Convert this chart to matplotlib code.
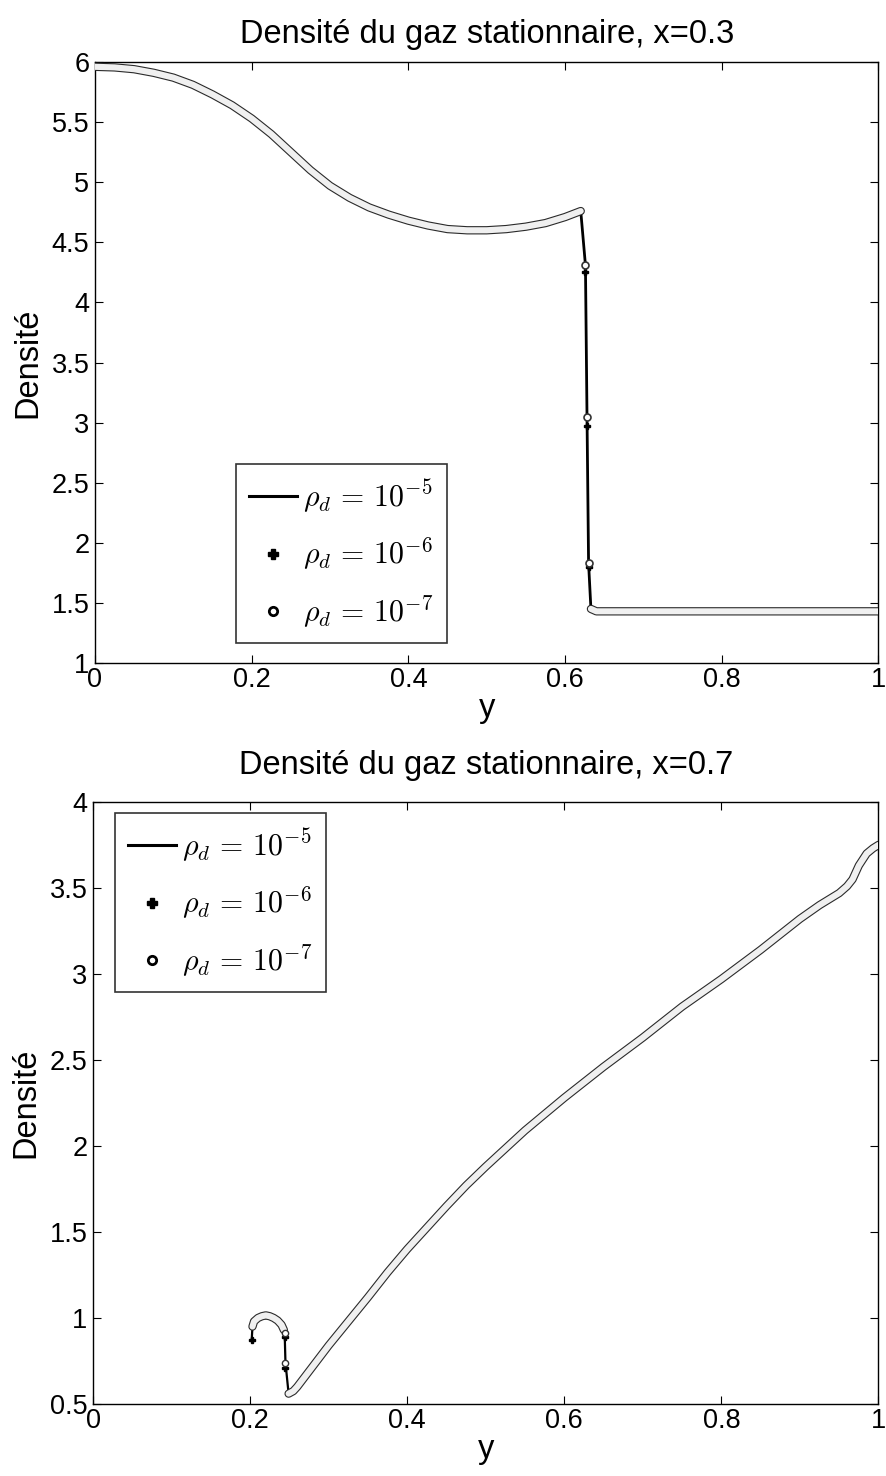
import matplotlib
matplotlib.use("Agg")
import matplotlib.pyplot as plt
import matplotlib.patheffects as pe
from matplotlib.lines import Line2D

plt.rcParams["font.family"] = ["Liberation Sans", "DejaVu Sans"]
plt.rcParams["mathtext.fontset"] = "cm"

# --- x = 0.3 : smooth part, shock, post-shock plateau
y_top_left = [0.0, 0.025, 0.05, 0.075, 0.1, 0.125, 0.15, 0.175, 0.2, 0.225,
              0.25, 0.275, 0.3, 0.325, 0.35, 0.375, 0.4, 0.425, 0.45, 0.475,
              0.5, 0.525, 0.55, 0.575, 0.6, 0.62]
rho_top_left = [5.96, 5.955, 5.94, 5.91, 5.87, 5.81, 5.73, 5.64, 5.53, 5.40,
                5.25, 5.10, 4.97, 4.87, 4.79, 4.73, 4.68, 4.64, 4.61, 4.60,
                4.60, 4.61, 4.63, 4.66, 4.71, 4.76]
y_top_shock = [0.626, 0.628, 0.630]
rho_top_shock_e6 = [4.25, 2.97, 1.80]
rho_top_shock_e7 = [4.31, 3.05, 1.83]
y_top_right = [0.633, 0.64, 0.7, 0.8, 0.9, 1.0]
rho_top_right = [1.45, 1.43, 1.43, 1.43, 1.43, 1.43]

# --- x = 0.7 : small hump, drop, long rise
y_bot_hump = [0.203, 0.205, 0.21, 0.215, 0.22, 0.225, 0.23, 0.235, 0.24, 0.243]
rho_bot_hump = [0.95, 0.98, 1.00, 1.01, 1.015, 1.01, 1.00, 0.985, 0.96, 0.93]
y_bot_drop = [0.244, 0.245]
rho_bot_drop_e6 = [0.89, 0.71]
rho_bot_drop_e7 = [0.91, 0.74]
y_bot_rise = [0.249, 0.255, 0.26, 0.28, 0.3, 0.325, 0.35, 0.375, 0.4, 0.425,
              0.45, 0.475, 0.5, 0.55, 0.6, 0.65, 0.7, 0.75, 0.8, 0.85, 0.9,
              0.925, 0.95, 0.96, 0.967, 0.975, 0.985, 0.993, 1.0]
rho_bot_rise = [0.56, 0.575, 0.60, 0.72, 0.84, 0.98, 1.12, 1.265, 1.40, 1.525,
                1.65, 1.77, 1.88, 2.09, 2.28, 2.46, 2.63, 2.81, 2.97, 3.14, 3.32,
                3.40, 3.47, 3.51, 3.55, 3.63, 3.70, 3.73, 3.75]
y_bot_start, rho_bot_start = 0.202, 0.87

labels = [r"$\rho_d \,=\, 10^{-5}$", r"$\rho_d \,=\, 10^{-6}$",
          r"$\rho_d \,=\, 10^{-7}$"]
x_ticks = [0, 0.2, 0.4, 0.6, 0.8, 1]
x_ticklabels = ["0", "0.2", "0.4", "0.6", "0.8", "1"]
top_yticks = [1, 1.5, 2, 2.5, 3, 3.5, 4, 4.5, 5, 5.5, 6]
top_yticklabels = ["1", "1.5", "2", "2.5", "3", "3.5", "4", "4.5", "5", "5.5", "6"]
bot_yticks = [0.5, 1, 1.5, 2, 2.5, 3, 3.5, 4]
bot_yticklabels = ["0.5", "1", "1.5", "2", "2.5", "3", "3.5", "4"]

tube = [pe.Stroke(linewidth=6.0, foreground="#2a2a2a", joinstyle="round"),
        pe.Normal()]


def draw_tube(ax, xs, ys):
    # dense open-circle markers in the original merge into a hollow tube
    ax.plot(xs, ys, color="#f0f0f0", lw=4.4, solid_capstyle="round",
            solid_joinstyle="round", path_effects=tube, zorder=3)


def style(ax, title, pad, yticks, yticklabels, ylim):
    ax.set_xlim(0, 1)
    ax.set_ylim(*ylim)
    ax.set_xticks(x_ticks)
    ax.set_xticklabels(x_ticklabels)
    ax.set_yticks(yticks)
    ax.set_yticklabels(yticklabels)
    ax.tick_params(direction="in", length=6, width=0.8, top=True, right=True,
                   labelsize=19.5, pad=3)
    ax.tick_params(axis="y", pad=4)
    for s in ax.spines.values():
        s.set_linewidth(1.0)
    ax.set_title(title, fontsize=23.5, pad=pad)
    ax.set_xlabel("y", fontsize=23.5, labelpad=0)
    ax.set_ylabel("Densité", fontsize=23.5, labelpad=6)


def legend(ax, anchor):
    handles = [
        Line2D([], [], color="black", lw=2.2),
        Line2D([], [], ls="none", marker="P", ms=6.5, color="black"),
        Line2D([], [], ls="none", marker="o", ms=6, mfc="white", mec="black", mew=2),
    ]
    leg = ax.legend(handles, labels, loc="lower left", bbox_to_anchor=anchor,
                    fontsize=21.5, frameon=True, fancybox=False, handlelength=1.6,
                    handletextpad=0.2, labelspacing=0.7, borderpad=0.45,
                    borderaxespad=0)
    leg.get_frame().set_edgecolor("black")
    leg.get_frame().set_linewidth(1.2)
    leg.set_zorder(10)


fig = plt.figure(figsize=(8.86, 14.76), dpi=100)
ax1 = fig.add_axes([0.1072, 0.5508, 0.8843, 0.4072])
ax2 = fig.add_axes([0.1050, 0.0488, 0.8865, 0.4079])

# top panel
ax1.plot(y_top_left + y_top_shock + y_top_right,
         rho_top_left + rho_top_shock_e7 + rho_top_right,
         color="black", lw=2.0, zorder=2)
draw_tube(ax1, y_top_left, rho_top_left)
draw_tube(ax1, y_top_right, rho_top_right)
ax1.plot(y_top_shock, rho_top_shock_e6, ls="none", marker="P", ms=5,
         color="black", zorder=4)
ax1.plot(y_top_shock, rho_top_shock_e7, ls="none", marker="o", ms=5,
         mfc="white", mec="#333333", mew=1.2, zorder=4)
style(ax1, "Densité du gaz stationnaire, x=0.3", 14, top_yticks,
      top_yticklabels, (1, 6))
legend(ax1, (0.18, 0.033))

# bottom panel
ax2.plot([y_bot_start] + y_bot_hump + y_bot_drop + y_bot_rise,
         [rho_bot_start] + rho_bot_hump + rho_bot_drop_e7 + rho_bot_rise,
         color="black", lw=1.6, zorder=2)
draw_tube(ax2, y_bot_hump, rho_bot_hump)
draw_tube(ax2, y_bot_rise, rho_bot_rise)
ax2.plot([y_bot_start] + y_bot_drop, [rho_bot_start] + rho_bot_drop_e6,
         ls="none", marker="P", ms=5, color="black", zorder=4)
ax2.plot(y_bot_drop, rho_bot_drop_e7, ls="none", marker="o", ms=4.5,
         mfc="white", mec="#333333", mew=1.0, zorder=4)
style(ax2, "Densité du gaz stationnaire, x=0.7", 20, bot_yticks,
      bot_yticklabels, (0.5, 4))
legend(ax2, (0.028, 0.684))

fig.savefig("out.png", dpi=100)
